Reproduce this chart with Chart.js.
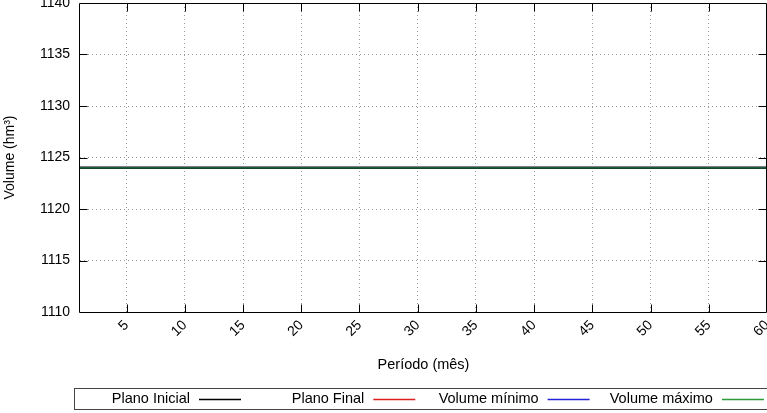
<!DOCTYPE html>
<html>
<head>
<meta charset="utf-8">
<script src="https://cdn.jsdelivr.net/npm/chart.js@4.4.0/dist/chart.umd.min.js"></script>
<style>
  html, body { margin: 0; padding: 0; background: #fff; }
  canvas { display: block; }
</style>
</head>
<body>
<canvas id="volChart" width="767" height="413"></canvas>
<script>
const periodos = [
  1, 2, 3, 4, 5, 6, 7, 8, 9, 10,
  11, 12, 13, 14, 15, 16, 17, 18, 19, 20,
  21, 22, 23, 24, 25, 26, 27, 28, 29, 30,
  31, 32, 33, 34, 35, 36, 37, 38, 39, 40,
  41, 42, 43, 44, 45, 46, 47, 48, 49, 50,
  51, 52, 53, 54, 55, 56, 57, 58, 59, 60
];
const planoInicial = [
  1124, 1124, 1124, 1124, 1124, 1124, 1124, 1124, 1124, 1124,
  1124, 1124, 1124, 1124, 1124, 1124, 1124, 1124, 1124, 1124,
  1124, 1124, 1124, 1124, 1124, 1124, 1124, 1124, 1124, 1124,
  1124, 1124, 1124, 1124, 1124, 1124, 1124, 1124, 1124, 1124,
  1124, 1124, 1124, 1124, 1124, 1124, 1124, 1124, 1124, 1124,
  1124, 1124, 1124, 1124, 1124, 1124, 1124, 1124, 1124, 1124
];
const planoFinal = [
  1124, 1124, 1124, 1124, 1124, 1124, 1124, 1124, 1124, 1124,
  1124, 1124, 1124, 1124, 1124, 1124, 1124, 1124, 1124, 1124,
  1124, 1124, 1124, 1124, 1124, 1124, 1124, 1124, 1124, 1124,
  1124, 1124, 1124, 1124, 1124, 1124, 1124, 1124, 1124, 1124,
  1124, 1124, 1124, 1124, 1124, 1124, 1124, 1124, 1124, 1124,
  1124, 1124, 1124, 1124, 1124, 1124, 1124, 1124, 1124, 1124
];
const volumeMinimo = [
  1124, 1124, 1124, 1124, 1124, 1124, 1124, 1124, 1124, 1124,
  1124, 1124, 1124, 1124, 1124, 1124, 1124, 1124, 1124, 1124,
  1124, 1124, 1124, 1124, 1124, 1124, 1124, 1124, 1124, 1124,
  1124, 1124, 1124, 1124, 1124, 1124, 1124, 1124, 1124, 1124,
  1124, 1124, 1124, 1124, 1124, 1124, 1124, 1124, 1124, 1124,
  1124, 1124, 1124, 1124, 1124, 1124, 1124, 1124, 1124, 1124
];
const volumeMaximo = [
  1124, 1124, 1124, 1124, 1124, 1124, 1124, 1124, 1124, 1124,
  1124, 1124, 1124, 1124, 1124, 1124, 1124, 1124, 1124, 1124,
  1124, 1124, 1124, 1124, 1124, 1124, 1124, 1124, 1124, 1124,
  1124, 1124, 1124, 1124, 1124, 1124, 1124, 1124, 1124, 1124,
  1124, 1124, 1124, 1124, 1124, 1124, 1124, 1124, 1124, 1124,
  1124, 1124, 1124, 1124, 1124, 1124, 1124, 1124, 1124, 1124
];
const xTicks = [5, 10, 15, 20, 25, 30, 35, 40, 45, 50, 55, 60];
const yTicks = [1110, 1115, 1120, 1125, 1130, 1135, 1140];

const FONT = "'Liberation Sans', Arial, Helvetica, sans-serif";

function pts(values) {
    return periodos.map((p, i) => ({ x: p, y: values[i] }));
}

// gnuplot style frame, inner ticks and key box
const frameAndKey = {
    id: 'frameAndKey',
    afterDraw(chart) {
        const ctx = chart.ctx;
        const a = chart.chartArea;
        const xs = chart.scales.x, ys = chart.scales.y;
        const L = Math.round(a.left) - 0.5, R = Math.round(a.right) - 0.5;
        const T = Math.round(a.top) + 0.5, B = Math.round(a.bottom) + 0.5;
        ctx.save();
        ctx.strokeStyle = '#000';
        ctx.lineWidth = 1;
        ctx.beginPath();
        ctx.rect(L, T, R - L, B - T);
        xTicks.forEach(v => {
            const px = Math.round(xs.getPixelForValue(v)) + 0.5;
            ctx.moveTo(px, B); ctx.lineTo(px, B - 8);
            ctx.moveTo(px, T); ctx.lineTo(px, T + 8);
        });
        yTicks.slice(1, -1).forEach(v => {
            const py = Math.round(ys.getPixelForValue(v)) + 0.5;
            ctx.moveTo(L, py); ctx.lineTo(L + 8, py);
            ctx.moveTo(R, py); ctx.lineTo(R - 8, py);
        });
        ctx.stroke();

        // key box
        ctx.strokeStyle = '#444';
        ctx.strokeRect(74.5, 388.5, 710, 21);
        ctx.font = '14.5px ' + FONT;
        ctx.fillStyle = '#000';
        ctx.textAlign = 'right';
        ctx.textBaseline = 'middle';
        chart.data.datasets.forEach((ds, i) => {
            const tx = 190 + i * 174.3;
            ctx.fillText(ds.label, tx, 399);
            ctx.strokeStyle = ds.keyColor;
            ctx.lineWidth = 1.3;
            ctx.beginPath();
            ctx.moveTo(tx + 9, 399.5);
            ctx.lineTo(tx + 51, 399.5);
            ctx.stroke();
        });
        ctx.restore();
    }
};

const ctx = document.getElementById('volChart').getContext('2d');
let volChart = new Chart(ctx, {
    type: 'line',
    data: {
        datasets: [{
            label: 'Plano Inicial',
            data: pts(planoInicial),
            borderColor: '#000000',
            keyColor: '#000000',
            borderWidth: 2.2,
            order: 1
        }, {
            label: 'Plano Final',
            data: pts(planoFinal),
            borderColor: '#e0201f',
            keyColor: '#e0201f',
            borderWidth: 2,
            order: 3
        }, {
            label: 'Volume mínimo',
            data: pts(volumeMinimo),
            borderColor: '#2424d8',
            keyColor: '#2424d8',
            borderWidth: 2,
            order: 2
        }, {
            label: 'Volume máximo',
            data: pts(volumeMaximo),
            borderColor: 'rgba(46,154,90,0.6)',
            keyColor: '#2e9a3a',
            borderWidth: 2,
            order: 0
        }]
    },
    options: {
        responsive: false,
        animation: false,
        layout: { padding: { top: 3, right: 0, bottom: 39.6, left: 0 } },
        elements: { point: { radius: 0 }, line: { tension: 0, fill: false } },
        plugins: {
            legend: { display: false },
            tooltip: { enabled: false }
        },
        scales: {
            x: {
                type: 'linear',
                min: 1,
                max: 60,
                afterBuildTicks: axis => { axis.ticks = xTicks.map(v => ({ value: v })); },
                afterFit: scale => {
                    scale.height = 61.4;
                    scale.paddingLeft = 0;
                    scale.paddingRight = 0;
                },
                grid: { color: '#9a9a9a', lineWidth: 1, drawTicks: false },
                border: { display: false, dash: [1, 3] },
                ticks: {
                    autoSkip: false,
                    minRotation: 45,
                    maxRotation: 45,
                    padding: 5,
                    color: '#000',
                    font: { family: FONT, size: 14 },
                    callback: v => String(v)
                },
                title: {
                    display: true,
                    text: 'Período (mês)',
                    color: '#000',
                    padding: 0,
                    font: { family: FONT, size: 14.5 }
                }
            },
            y: {
                min: 1110,
                max: 1140,
                afterBuildTicks: axis => { axis.ticks = yTicks.map(v => ({ value: v })); },
                afterFit: scale => {
                    scale.width = 80;
                    scale.paddingTop = 0;
                    scale.paddingBottom = 0;
                },
                grid: { color: '#9a9a9a', lineWidth: 1, drawTicks: false },
                border: { display: false, dash: [1, 3] },
                ticks: {
                    padding: 10,
                    color: '#000',
                    font: { family: FONT, size: 14 },
                    callback: v => String(v)
                },
                title: {
                    display: true,
                    text: 'Volume (hm³)',
                    color: '#000',
                    padding: { top: 2, bottom: 0 },
                    font: { family: FONT, size: 14 }
                }
            }
        }
    },
    plugins: [frameAndKey]
});
</script>
</body>
</html>
